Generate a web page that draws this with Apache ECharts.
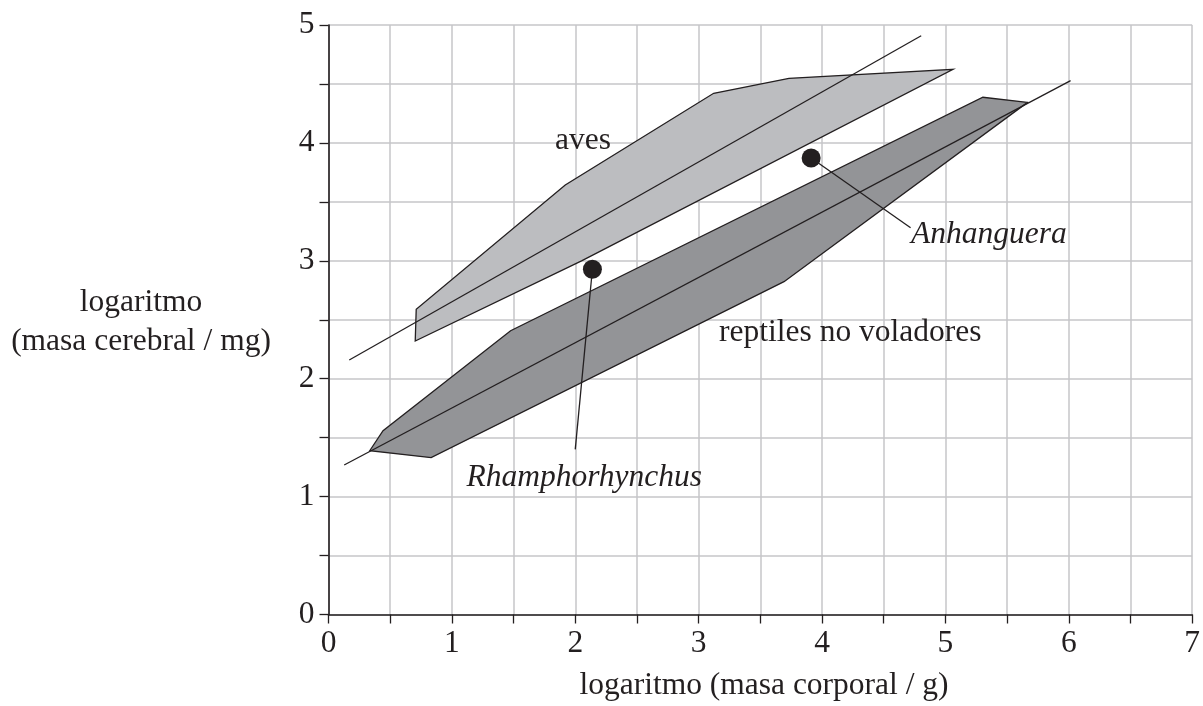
<!DOCTYPE html>
<html><head><meta charset="utf-8">
<script src="https://cdn.jsdelivr.net/npm/echarts@6/dist/echarts.min.js"></script>
<style>html,body{margin:0;padding:0;background:#fff}#c{width:1203px;height:706px}</style>
</head><body><div id="c"></div><script>
// ---- data ----
const xTickLabels = ['0','1','2','3','4','5','6','7'];
const yTickLabels = ['0','1','2','3','4','5'];
const xAxisTitle = 'logaritmo (masa corporal / g)';
const yAxisTitle = 'logaritmo\n(masa cerebral / mg)';

// envelope of birds (aves)
const avesPolygon = [[0.703,2.320],[0.711,2.589],[1.919,3.643],[3.122,4.421],[3.732,4.548],[5.062,4.624],[2.051,2.999]];
// envelope of non-flying reptiles
const reptilesPolygon = [[0.334,1.389],[0.442,1.559],[1.476,2.407],[5.304,4.387],[5.666,4.344],[3.692,2.823],[0.832,1.330]];
// regression lines
const avesLine = [[0.168,2.159],[4.804,4.909]];
const reptilesLine = [[0.127,1.268],[6.015,4.528]];
// pterosaurs
const pterosaurNames = ['Rhamphorhynchus','Anhanguera'];
const pterosaurX = [2.139, 3.912];
const pterosaurY = [2.928, 3.872];
const groupNames = ['aves','reptiles no voladores'];

// ---- chart ----
const FONT = '"Liberation Serif","Times New Roman",serif';
const FS = 31.5;
const INK = '#231f20';
const chart = echarts.init(document.getElementById('c'), null, {renderer:'canvas'});

function polySeries(points, fill){
  return {
    type:'custom', clip:false, silent:true, z:2,
    data:[[points[0][0], points[0][1]]],
    renderItem:(params, api)=>({
      type:'polygon',
      shape:{points: points.map(p=>api.coord(p))},
      style:{fill:fill, stroke:INK, lineWidth:1.3, lineJoin:'miter'}
    })
  };
}
function lineSeries(data, z){
  return {type:'line', data:data, showSymbol:false, symbol:'none', silent:true, z:z,
    lineStyle:{color:INK, width:1.3}, animation:false};
}

const leaderRham = [[pterosaurX[0], pterosaurY[0]],[2.000,1.401]];
const leaderAnh = [[pterosaurX[1], pterosaurY[1]],[4.718,3.281]];

chart.setOption({
  animation:false,
  backgroundColor:'#ffffff',
  grid:{left:328.5, right:5.7, top:25, bottom:91.5, containLabel:false},
  xAxis:{
    type:'value', min:0, max:7, interval:0.5,
    axisLine:{show:true, onZero:false, lineStyle:{color:INK, width:1.6}},
    axisTick:{show:true, inside:false, length:9, lineStyle:{color:INK, width:1.3}},
    splitLine:{show:true, lineStyle:{color:'#c6c6c8', width:1.5}},
    axisLabel:{show:true, margin:13, color:INK, fontFamily:FONT, fontSize:FS,
      formatter:v=>Number.isInteger(v)?xTickLabels[v]:''}
  },
  yAxis:{
    type:'value', min:0, max:5, interval:0.5,
    axisLine:{show:true, onZero:false, lineStyle:{color:INK, width:1.6}},
    axisTick:{show:true, inside:false, length:9, lineStyle:{color:INK, width:1.3}},
    splitLine:{show:true, lineStyle:{color:'#c6c6c8', width:1.5}},
    axisLabel:{show:true, margin:14, color:INK, fontFamily:FONT, fontSize:FS,
      formatter:v=>Number.isInteger(v)?yTickLabels[v]:''}
  },
  graphic:[
    {type:'text', x:764, y:686, silent:true,
      style:{text:xAxisTitle, font:FS+'px '+FONT, fill:INK,
        align:'center', verticalAlign:'middle', textAlign:'center', textVerticalAlign:'middle'}},
    {type:'text', x:141, y:322, silent:true,
      style:{text:yAxisTitle, font:FS+'px '+FONT, fill:INK, lineHeight:38.7,
        align:'center', verticalAlign:'middle', textAlign:'center', textVerticalAlign:'middle'}}
  ],
  series:[
    polySeries(avesPolygon, '#bcbdc0'),
    polySeries(reptilesPolygon, '#939497'),
    lineSeries(avesLine, 3),
    lineSeries(reptilesLine, 3),
    lineSeries(leaderRham, 4),
    lineSeries(leaderAnh, 4),
    {type:'scatter', z:5, silent:true, symbol:'circle', symbolSize:19,
      itemStyle:{color:INK, opacity:1},
      data:pterosaurNames.map((n,i)=>({name:n, value:[pterosaurX[i], pterosaurY[i]]}))},
    {type:'scatter', z:6, silent:true, symbolSize:0,
      itemStyle:{opacity:1},
      label:{show:true, position:'inside', color:INK, opacity:1, fontFamily:FONT, fontSize:FS, formatter:p=>p.name},
      data:[
        {name:groupNames[0], value:[2.063,4.017]},
        {name:groupNames[1], value:[4.229,2.390]},
        {name:pterosaurNames[0], value:[2.073,1.162], label:{fontStyle:'italic'}},
        {name:pterosaurNames[1], value:[5.353,3.219], label:{fontStyle:'italic'}}
      ]}
  ]
});
</script></body></html>
